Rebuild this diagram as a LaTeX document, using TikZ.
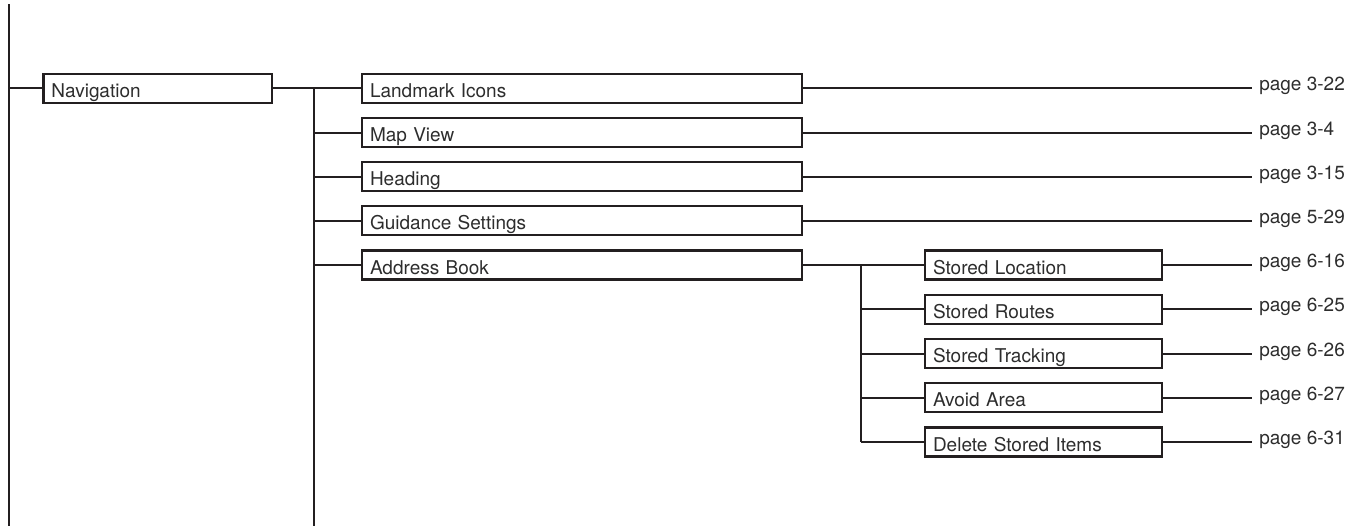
\documentclass[tikz,border=0pt]{standalone}
\usepackage{fontspec}
\setmainfont{TeX Gyre Heros}
\definecolor{linecol}{RGB}{35,31,32}
\definecolor{txtcol}{RGB}{45,45,45}
\begin{document}
\begin{tikzpicture}[x=0.75pt,y=-0.75pt,
  conn/.style={draw=linecol,line width=1.5pt},
  menubox/.style={draw=linecol,line width=1.6pt,rectangle,minimum height=21.75pt,
     inner xsep=6pt,inner ysep=0pt,text height=13.5pt,text depth=0pt,align=left,
     text=txtcol,font=\fontsize{14.25pt}{16pt}\selectfont},
  navbox/.style={menubox,text width=159.4pt},
  midbox/.style={menubox,text width=318pt},
  subbox/.style={menubox,text width=165.75pt},
  pagelbl/.style={anchor=base west,inner xsep=5.25pt,inner ysep=0pt,text=txtcol,
     font=\fontsize{14.25pt}{16pt}\selectfont}]
\useasboundingbox (0,0) rectangle (1366,526);

% left trunk
\coordinate (topL) at (9,4);
\coordinate (botL) at (9,526);
\draw[conn] (topL) -- (botL);

% Navigation
\node[navbox] (nav) at (157.75,88.3) {Navigation};
\draw[conn] (nav.west -| topL) -- (nav.west);

% second-level trunk
\coordinate (j2) at (314,88.3);
\coordinate (j2b) at (314,526);
\draw[conn] (nav.east) -- (j2);
\draw[conn] (j2) -- (j2b);

% second-level boxes
\node[midbox] (lm) at (582,88.3) {Landmark Icons};
\node[midbox] (mv) at (582,132.5) {Map View};
\node[midbox] (hd) at (582,176.5) {Heading};
\node[midbox] (gs) at (582,220.7) {Guidance Settings};
\node[midbox] (ab) at (582,265) {Address Book};

\foreach \b in {lm,mv,hd,gs,ab}{\draw[conn] (\b.west -| j2) -- (\b.west);}

% page labels for second level
\node[pagelbl] (plm) at (1252,90.8) {page 3-22};
\node[pagelbl] (pmv) at (1252,135.0) {page 3-4};
\node[pagelbl] (phd) at (1252,179.0) {page 3-15};
\node[pagelbl] (pgs) at (1252,223.2) {page 5-29};
\draw[conn] (lm.east) -- (lm.east -| plm.west);
\draw[conn] (mv.east) -- (mv.east -| pmv.west);
\draw[conn] (hd.east) -- (hd.east -| phd.west);
\draw[conn] (gs.east) -- (gs.east -| pgs.west);

% third-level trunk
\coordinate (j3) at (860.5,265);
\coordinate (j3b) at (860.5,442);
\draw[conn] (ab.east) -- (j3);
\draw[conn] (j3) -- (j3b);

% third-level boxes
\node[subbox] (sl) at (1043.5,265) {Stored Location};
\node[subbox] (sr) at (1043.5,309.25) {Stored Routes};
\node[subbox] (st) at (1043.5,353.5) {Stored Tracking};
\node[subbox] (aa) at (1043.5,397.75) {Avoid Area};
\node[subbox] (ds) at (1043.5,442) {Delete Stored Items};
\foreach \b in {sl,sr,st,aa,ds}{\draw[conn] (\b.west -| j3) -- (\b.west);}

% page labels for third level
\node[pagelbl] (psl) at (1252,267.5) {page 6-16};
\node[pagelbl] (psr) at (1252,311.75) {page 6-25};
\node[pagelbl] (pst) at (1252,356.0) {page 6-26};
\node[pagelbl] (paa) at (1252,400.25) {page 6-27};
\node[pagelbl] (pds) at (1252,444.5) {page 6-31};
\draw[conn] (sl.east) -- (sl.east -| psl.west);
\draw[conn] (sr.east) -- (sr.east -| psr.west);
\draw[conn] (st.east) -- (st.east -| pst.west);
\draw[conn] (aa.east) -- (aa.east -| paa.west);
\draw[conn] (ds.east) -- (ds.east -| pds.west);
\end{tikzpicture}
\end{document}
